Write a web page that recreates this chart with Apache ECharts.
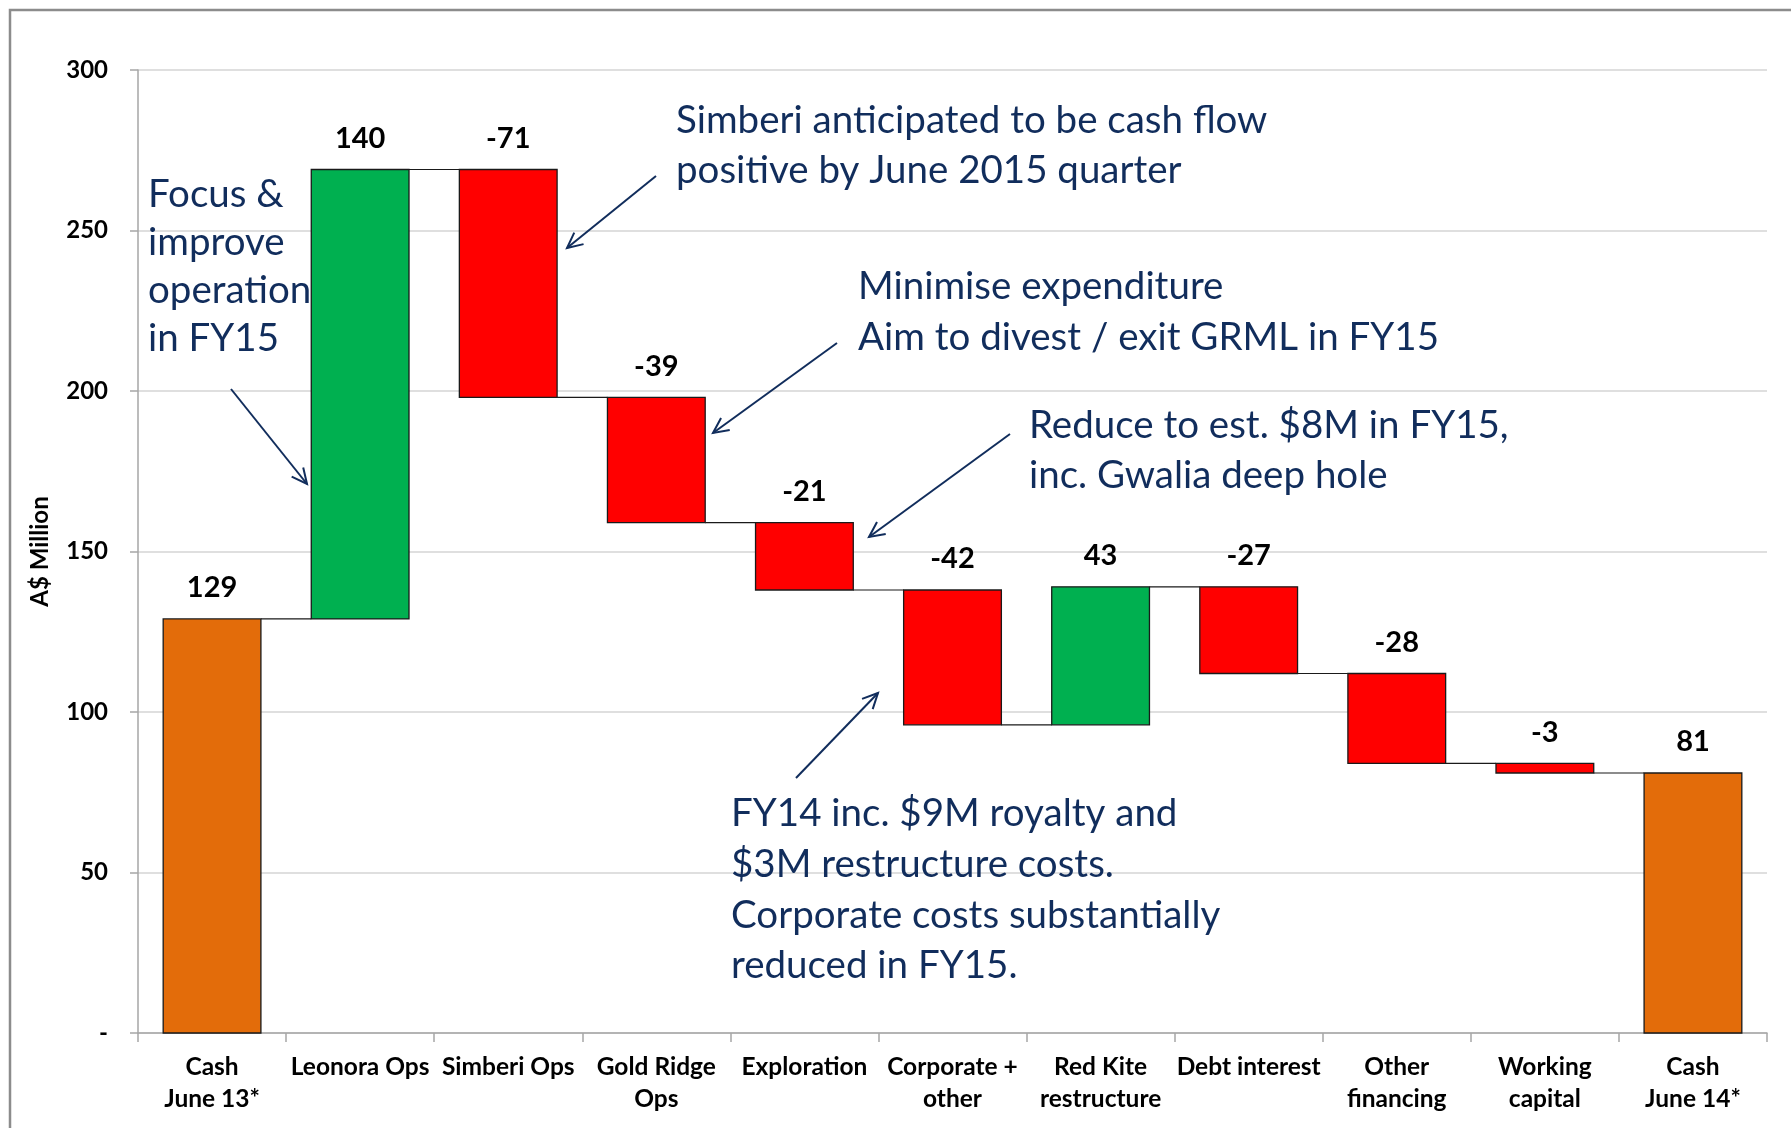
<!DOCTYPE html>
<html><head><meta charset="utf-8">
<script src="https://cdn.jsdelivr.net/npm/echarts@6/dist/echarts.min.js"></script>
<style>html,body{margin:0;padding:0;background:#fff}#c{width:1791px;height:1128px}</style>
</head><body><div id="c"></div>
<script>
// ---- data ----
const categories = ['Cash\nJune 13*', 'Leonora Ops', 'Simberi Ops', 'Gold Ridge\nOps', 'Exploration',
  'Corporate +\nother', 'Red Kite\nrestructure', 'Debt interest', 'Other\nfinancing', 'Working\ncapital', 'Cash\nJune 14*'];
const changes = [129, 140, -71, -39, -21, -42, 43, -27, -28, -3, 81];
const isTotal = [true, false, false, false, false, false, false, false, false, false, true];
const yMin = 0, yMax = 300, yStep = 50;
const yAxisName = 'A$ Million';

const notes = [
  { text: 'Focus &\nimprove\noperation\nin FY15', x: 148, y: 195, lh: 48 },
  { text: 'Simberi anticipated to be cash flow\npositive by June 2015 quarter', x: 676, y: 121, lh: 50 },
  { text: 'Minimise expenditure\nAim to divest / exit GRML in FY15', x: 858, y: 287, lh: 51 },
  { text: 'Reduce to est. $8M in FY15,\ninc. Gwalia deep hole', x: 1029, y: 426, lh: 50 },
  { text: 'FY14 inc. $9M royalty and\n$3M restructure costs.\nCorporate costs substantially\nreduced in FY15.', x: 731, y: 814, lh: 50.6 }
];
const arrows = [
  [231, 389, 307, 484],
  [656, 176, 567, 248],
  [837, 343, 713, 433],
  [1010, 434, 869, 537],
  [796, 778, 878, 693]
];

// ---- styling ----
const COL_TOTAL = '#E36C0A', COL_UP = '#00B050', COL_DOWN = '#FF0000';
const NAVY = '#112D5C';
const FONT = 'Lato';

// ---- waterfall rows ----
let running = 0;
const rows = changes.map((v, i) => {
  let lo, hi, end;
  if (isTotal[i]) { lo = 0; hi = v; end = v; running = v; }
  else { const s = running; running += v; lo = Math.min(s, running); hi = Math.max(s, running); end = running; }
  return [i, lo, hi, v, end];
});
const colorOf = i => isTotal[i] ? COL_TOTAL : (changes[i] >= 0 ? COL_UP : COL_DOWN);

function renderItem(params, api) {
  const i = api.value(0), lo = api.value(1), hi = api.value(2), v = api.value(3), end = api.value(4);
  const band = api.size([1, 0])[0];
  const w = band * 0.66;
  const pTop = api.coord([i, hi]);
  const pBot = api.coord([i, lo]);
  const children = [
    { type: 'rect', shape: { x: pTop[0] - w / 2, y: pTop[1], width: w, height: pBot[1] - pTop[1] },
      style: { fill: colorOf(i), stroke: '#1a1a1a', lineWidth: 1.3 } },
    { type: 'text', style: { text: String(v), x: pTop[0], y: pTop[1] - 31, align: 'center', verticalAlign: 'middle',
      font: 'bold 29px ' + FONT, fill: '#000' } }
  ];
  if (i < categories.length - 1) {
    const pe = api.coord([i, end]);
    children.push({ type: 'line', shape: { x1: pTop[0] + w / 2, y1: pe[1], x2: pTop[0] + band - w / 2, y2: pe[1] },
      style: { stroke: '#1a1a1a', lineWidth: 1.2 } });
  }
  return { type: 'group', children };
}

function arrowEls(a) {
  const [x1, y1, x2, y2] = a;
  const ang = Math.atan2(y2 - y1, x2 - x1), L = 17, k = 0.45;
  const p1 = [x2 - L * Math.cos(ang - k), y2 - L * Math.sin(ang - k)];
  const p2 = [x2 - L * Math.cos(ang + k), y2 - L * Math.sin(ang + k)];
  return [
    { type: 'line', shape: { x1, y1, x2, y2 }, style: { stroke: NAVY, lineWidth: 2 }, z: 100 },
    { type: 'polyline', shape: { points: [p1, [x2, y2], p2] }, style: { stroke: NAVY, lineWidth: 2, fill: null }, z: 100 }
  ];
}

const graphics = [
  { type: 'rect', shape: { x: 10, y: 10, width: 1800, height: 1140 }, style: { fill: null, stroke: '#8C8C8C', lineWidth: 2.5 }, z: 0 }
];
notes.forEach(n => graphics.push({
  type: 'text', x: n.x, y: n.y - n.lh / 2, z: 100,
  style: { text: n.text, font: '38.5px ' + FONT, fill: NAVY, lineHeight: n.lh, verticalAlign: 'top', align: 'left' }
}));
arrows.forEach(a => graphics.push(...arrowEls(a)));

const chart = echarts.init(document.getElementById('c'), null, { renderer: 'canvas' });
chart.setOption({
  backgroundColor: '#fff',
  animation: false,
  grid: { left: 138, right: 24, top: 70, bottom: 95 },
  xAxis: {
    type: 'category', data: categories, boundaryGap: true,
    axisLine: { lineStyle: { color: '#A6A6A6', width: 1.5 } },
    axisTick: { show: true, length: 9, alignWithLabel: false, lineStyle: { color: '#A6A6A6', width: 1.5 } },
    axisLabel: { interval: 0, margin: 18, color: '#000', fontFamily: FONT, fontWeight: 'bold', fontSize: 24.5, lineHeight: 32 }
  },
  yAxis: {
    type: 'value', min: yMin, max: yMax, interval: yStep,
    name: yAxisName, nameLocation: 'middle', nameGap: 86, nameRotate: 90,
    nameTextStyle: { color: '#000', fontFamily: FONT, fontWeight: 'bold', fontSize: 24 },
    axisLine: { show: true, lineStyle: { color: '#A6A6A6', width: 1.5 } },
    axisTick: { show: true, length: 8, lineStyle: { color: '#A6A6A6', width: 1.5 } },
    splitLine: { lineStyle: { color: '#D4D4D4', width: 1.5 } },
    axisLabel: { margin: 30, color: '#000', fontFamily: FONT, fontWeight: 'bold', fontSize: 24,
      formatter: v => v === 0 ? '-' : String(v) }
  },
  series: [{
    type: 'custom', renderItem, data: rows,
    encode: { x: 0, y: [1, 2] }
  }],
  graphic: graphics
});
</script></body></html>
